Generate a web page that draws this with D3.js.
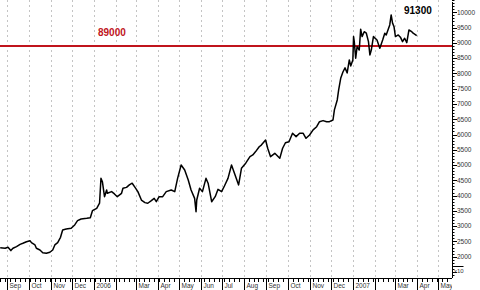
<!DOCTYPE html>
<html>
<head>
<meta charset="utf-8">
<script src="https://cdn.jsdelivr.net/npm/d3@7"></script>
<style>
  body { margin: 0; background: #fff; }
  svg { display: block; font-family: "Liberation Sans", Arial, sans-serif; }
</style>
</head>
<body>
<script>
// price series
const dates = [
  "2005-08-22","2005-08-29","2005-09-02","2005-09-06","2005-09-09","2005-09-14","2005-09-19","2005-09-23",
  "2005-09-28","2005-10-03","2005-10-05","2005-10-10","2005-10-12","2005-10-17","2005-10-21","2005-10-26",
  "2005-10-31","2005-11-04","2005-11-07","2005-11-11","2005-11-15","2005-11-18","2005-11-23","2005-11-30",
  "2005-12-05","2005-12-09","2005-12-14","2005-12-22","2005-12-27","2005-12-30","2006-01-05","2006-01-09",
  "2006-01-11","2006-01-13","2006-01-16","2006-01-19","2006-01-20","2006-01-26","2006-01-30","2006-02-03",
  "2006-02-09","2006-02-11","2006-02-16","2006-02-20","2006-02-24","2006-02-28","2006-03-04","2006-03-09",
  "2006-03-14","2006-03-18","2006-03-23","2006-03-27","2006-03-30","2006-04-03","2006-04-08","2006-04-13",
  "2006-04-20","2006-04-25","2006-04-29","2006-05-04","2006-05-09","2006-05-14","2006-05-18","2006-05-23",
  "2006-05-25","2006-05-26","2006-05-30","2006-06-03","2006-06-08","2006-06-11","2006-06-16","2006-06-21",
  "2006-06-25","2006-06-30","2006-07-04","2006-07-09","2006-07-14","2006-07-19","2006-07-24","2006-07-28",
  "2006-08-03","2006-08-09","2006-08-13","2006-08-17","2006-08-22","2006-08-25","2006-08-31","2006-09-03",
  "2006-09-07","2006-09-13","2006-09-20","2006-09-24","2006-09-28","2006-10-03","2006-10-08","2006-10-13",
  "2006-10-18","2006-10-23","2006-10-27","2006-11-01","2006-11-06","2006-11-11","2006-11-15","2006-11-20",
  "2006-11-25","2006-11-29","2006-12-04","2006-12-06","2006-12-10","2006-12-12","2006-12-15","2006-12-18",
  "2006-12-21","2006-12-24","2006-12-27","2006-12-29","2007-01-01","2007-01-02","2007-01-03","2007-01-05",
  "2007-01-07","2007-01-10","2007-01-12","2007-01-14","2007-01-17","2007-01-20","2007-01-23","2007-01-25",
  "2007-01-27","2007-01-30","2007-02-04","2007-02-08","2007-02-12","2007-02-15","2007-02-17","2007-02-22",
  "2007-02-24","2007-02-26","2007-02-28","2007-03-02","2007-03-06","2007-03-09","2007-03-12","2007-03-15",
  "2007-03-18","2007-03-21","2007-03-25","2007-03-27","2007-04-01"
];
const prices = [
  2290,2275,2310,2200,2275,2330,2405,2440,
  2490,2525,2460,2385,2275,2220,2130,2110,
  2145,2220,2385,2460,2635,2875,2905,2930,
  3040,3180,3235,3255,3275,3505,3585,3750,
  4565,4455,3965,4185,4075,4130,4055,3965,
  4075,4240,4270,4350,4405,4270,4130,3855,
  3770,3750,3835,3910,3800,3965,3965,4130,
  4185,4130,4565,5000,4840,4510,4185,3910,
  3475,3855,4240,4130,4565,4405,3800,3965,
  4205,4130,4315,4565,5000,4675,4350,4895,
  5060,5275,5330,5440,5600,5655,5820,5550,
  5275,5385,5220,5550,5730,5765,6040,5930,
  6040,6040,5875,5985,6150,6255,6420,6455,
  6420,6420,6475,6805,7130,7460,7850,8045,
  8180,8015,8440,8245,8440,9205,9040,8495,
  8875,8765,9445,9205,9365,9315,9040,8605,
  8765,9205,9095,8825,9095,9315,9260,9585,
  9915,9640,9530,9205,9260,9185,9040,9150,
  9005,9420,9365,9315,9240
];

const monthLabels = ["Sep","Oct","Nov","Dec","2006","","Mar","Apr","May","Jun","Jul","Aug",
                     "Sep","Oct","Nov","Dec","2007","","Mar","Apr","May"];
const yTicks = [2000,2500,3000,3500,4000,4500,5000,5500,6000,6500,7000,7500,8000,8500,9000,9500,10000];
const refLevel = 8900;
const refLabel = "89000";
const lastLabel = "91300";

const W = 480, H = 290;
const axisX = 452, axisY = 278;
const parse = d3.timeParse("%Y-%m-%d");
const data = dates.map((d, i) => ({date: parse(d), value: prices[i]}));

const x = d3.scaleTime()
  .domain([new Date(2005, 8, 1), new Date(2007, 4, 1)])
  .range([7.3, 438]);
const y = d3.scaleLinear()
  .domain([2000, 10000])
  .range([256.7, 12.3]);

const svg = d3.select("body").append("svg")
  .attr("width", W).attr("height", H);

svg.append("defs").append("clipPath").attr("id", "plot")
  .append("rect").attr("x", 0).attr("y", 0).attr("width", axisX).attr("height", H);

const months = d3.timeMonth.range(new Date(2005, 8, 1), new Date(2007, 5, 1));

// dotted month grid
svg.append("g").selectAll("line").data(months).join("line")
  .attr("x1", d => Math.round(x(d)) + 0.5).attr("x2", d => Math.round(x(d)) + 0.5)
  .attr("y1", 0).attr("y2", axisY)
  .attr("stroke", "#c4c4c4").attr("stroke-dasharray", "2,3");

// reference line
svg.append("line")
  .attr("x1", 0).attr("x2", axisX)
  .attr("y1", y(refLevel)).attr("y2", y(refLevel))
  .attr("stroke", "#c0141c").attr("stroke-width", 2);

svg.append("text").attr("x", 98).attr("y", 36)
  .attr("fill", "#c0141c").attr("font-weight", "bold").attr("font-size", 10)
  .text(refLabel);

// price
svg.append("path").datum(data)
  .attr("clip-path", "url(#plot)")
  .attr("fill", "none").attr("stroke", "#000").attr("stroke-width", 1.5)
  .attr("stroke-linejoin", "round")
  .attr("d", d3.line().x(d => x(d.date)).y(d => y(d.value)));

svg.append("text").attr("x", 404).attr("y", 14)
  .attr("fill", "#000").attr("font-weight", "bold").attr("font-size", 10)
  .text(lastLabel);

// bottom axis
const xg = svg.append("g").attr("clip-path", "url(#plot)");
xg.append("line").attr("x1", 0).attr("x2", axisX).attr("y1", axisY + 0.5).attr("y2", axisY + 0.5)
  .attr("stroke", "#000");
xg.selectAll("line.wk").data(d3.timeMonday.range(new Date(2005, 7, 15), new Date(2007, 5, 1)))
  .join("line").attr("class", "wk")
  .attr("x1", d => Math.round(x(d)) + 0.5).attr("x2", d => Math.round(x(d)) + 0.5)
  .attr("y1", axisY).attr("y2", axisY + 4).attr("stroke", "#000");
xg.selectAll("line.mo").data(months).join("line").attr("class", "mo")
  .attr("x1", d => Math.round(x(d)) + 0.5).attr("x2", d => Math.round(x(d)) + 0.5)
  .attr("y1", axisY).attr("y2", H).attr("stroke", "#000");
xg.selectAll("text").data(months.slice(0, monthLabels.length)).join("text")
  .attr("x", (d, i) => Math.round(x(d)) + 2.5).attr("y", 288)
  .attr("font-size", 6.5).attr("fill", "#333")
  .text((d, i) => monthLabels[i]);

// right axis
const yg = svg.append("g");
yg.append("line").attr("x1", axisX + 0.5).attr("x2", axisX + 0.5).attr("y1", 2).attr("y2", axisY)
  .attr("stroke", "#000");
yg.selectAll("line.mn").data(d3.range(1400, 10401, 100)).join("line").attr("class", "mn")
  .attr("x1", axisX).attr("x2", d => axisX + (d % 500 === 0 ? 5 : 2.5))
  .attr("y1", d => Math.round(y(d)) + 0.5).attr("y2", d => Math.round(y(d)) + 0.5)
  .attr("stroke", "#000");
yg.selectAll("text").data(yTicks).join("text")
  .attr("x", 457).attr("y", d => y(d)).attr("dy", "0.35em")
  .attr("font-size", 6.5).attr("fill", "#333")
  .text(d => d);

// scale factor box
yg.append("path").attr("d", `M${axisX + 0.5},273.5V266.5H463.5`).attr("fill", "none").attr("stroke", "#000");
yg.append("text").attr("x", 454).attr("y", 272.5).attr("font-size", 6).attr("fill", "#333").text("x10");
</script>
</body>
</html>
